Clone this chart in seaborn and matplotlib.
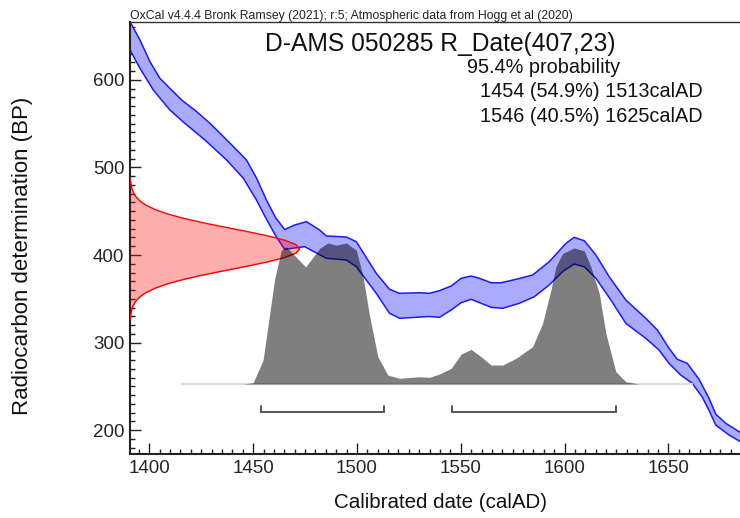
import numpy as np
import pandas as pd
import matplotlib
matplotlib.use("Agg")
import matplotlib.pyplot as plt
import seaborn as sns
from matplotlib.ticker import MultipleLocator

# ---------------- data ----------------
header = "OxCal v4.4.4 Bronk Ramsey (2021); r:5; Atmospheric data from Hogg et al (2020)"
title = "D-AMS 050285 R_Date(407,23)"
summary_lines = ["95.4% probability", "1454 (54.9%) 1513calAD", "1546 (40.5%) 1625calAD"]
x_label = "Calibrated date (calAD)"
y_label = "Radiocarbon determination (BP)"

# calibration curve band (upper / lower edges)
curve_upper_year = [1390.7, 1395.5, 1400.3, 1405.1, 1409.9, 1415.6, 1422.8, 1429.2, 1437.8, 1446.8,
                    1451.6, 1456.4, 1460.9, 1465.2, 1470.0, 1475.7, 1482.0, 1485.3, 1494.9, 1499.7,
                    1509.3, 1515.7, 1520.5, 1530.1, 1534.9, 1539.7, 1545.4, 1550.2, 1555.0, 1559.0,
                    1564.6, 1569.4, 1576.6, 1584.6, 1592.6, 1600.7, 1604.6, 1609.5, 1615.1, 1621.5,
                    1629.5, 1639.1, 1644.7, 1650.3, 1654.3, 1659.1, 1664.7, 1669.5, 1672.8, 1677.6, 1684.5]
curve_upper_bp = [666.6, 645.7, 620.9, 601.9, 590.5, 577.1, 563.8, 550.5, 530.3, 508.6,
                  488.0, 462.9, 442.3, 429.1, 434.3, 438.1, 428.6, 421.7, 420.6, 415.2,
                  379.1, 360.8, 356.2, 356.9, 356.2, 359.2, 364.6, 373.4, 376.0, 373.4,
                  368.3, 368.3, 372.2, 377.1, 392.3, 413.4, 420.2, 416.3, 400.0, 375.2,
                  348.6, 327.7, 314.3, 293.4, 280.8, 276.2, 258.3, 236.6, 218.3, 207.7, 197.5]
curve_lower_year = [1390.7, 1395.5, 1401.9, 1409.9, 1417.1, 1426.8, 1437.2, 1445.2, 1451.6, 1456.1,
                    1461.2, 1465.2, 1474.8, 1485.3, 1494.9, 1499.7, 1509.3, 1515.7, 1520.5, 1534.9,
                    1539.7, 1545.4, 1550.2, 1555.0, 1564.6, 1570.2, 1578.2, 1585.4, 1592.6, 1599.0,
                    1604.6, 1609.5, 1615.1, 1622.3, 1629.5, 1639.1, 1645.5, 1650.3, 1655.9, 1661.5,
                    1666.3, 1669.5, 1672.8, 1679.2, 1684.5]
curve_lower_bp = [634.3, 613.4, 588.6, 565.7, 550.5, 531.4, 508.6, 488.0, 462.9, 442.3,
                  420.6, 406.5, 409.5, 396.2, 394.3, 386.6, 356.2, 333.4, 327.7, 329.7,
                  328.8, 337.1, 345.5, 349.4, 340.2, 339.1, 344.8, 352.3, 365.7, 380.9,
                  389.7, 386.6, 373.4, 348.6, 321.9, 304.8, 291.4, 276.2, 262.9, 253.4,
                  237.7, 222.9, 205.7, 194.3, 187.0]

# measured radiocarbon date distribution (relative density vs BP)
date_bp = [487, 482, 477, 472, 467, 462, 457, 452, 447, 442, 437, 432, 427, 422, 417, 412, 407,
           402, 397, 392, 387, 382, 377, 372, 367, 362, 357, 352, 347, 342, 337, 332, 327]
date_density = [0.002, 0.005, 0.010, 0.018, 0.033, 0.057, 0.094, 0.147, 0.220, 0.314, 0.427, 0.554,
                0.685, 0.808, 0.910, 0.977, 1.000, 0.977, 0.910, 0.808, 0.685, 0.554, 0.427, 0.314,
                0.220, 0.147, 0.094, 0.057, 0.033, 0.018, 0.010, 0.005, 0.002]

# calibrated (posterior) distribution, relative probability vs calendar year
post_year = [1415.7, 1445.2, 1450.0, 1454.8, 1458.0, 1460.4, 1463.6, 1466.0, 1475.3, 1482.0,
             1486.0, 1490.1, 1494.9, 1499.7, 1502.9, 1506.1, 1510.1, 1514.9, 1520.5, 1525.3,
             1530.1, 1534.9, 1539.7, 1545.4, 1550.2, 1555.0, 1559.8, 1564.6, 1570.2, 1576.6,
             1584.6, 1589.4, 1593.4, 1595.8, 1599.0, 1604.6, 1609.5, 1612.7, 1616.7, 1619.9,
             1624.7, 1629.5, 1635.9, 1661.5]
post_prob = [0.0, 0.0, 0.009, 0.169, 0.498, 0.744, 0.944, 0.967, 0.826, 0.956,
             0.995, 0.979, 0.995, 0.944, 0.761, 0.479, 0.192, 0.063, 0.040, 0.046,
             0.051, 0.047, 0.070, 0.111, 0.211, 0.244, 0.192, 0.134, 0.134, 0.181,
             0.263, 0.427, 0.662, 0.826, 0.920, 0.960, 0.939, 0.826, 0.639, 0.357,
             0.087, 0.016, 0.0, 0.0]

# 95.4% ranges
range_start = [1454, 1546]
range_end = [1513, 1625]

# ---------------- layout / style ----------------
XMIN, XMAX = 1390.7, 1684.5
YMIN, YMAX = 172.6, 666.6
DATE_WIDTH = 81.7        # horizontal extent (years) of the red date curve
POST_BASE = 252.6        # baseline (BP) of the calibrated distribution
POST_HEIGHT = 162.0      # height (BP) of the calibrated distribution peak
BRACKET_Y, BRACKET_TOP = 220.5, 228.0

sns.set_theme(style="ticks")
plt.rcParams['font.family'] = ['Liberation Sans', 'DejaVu Sans']

W, H = 740, 518
fig = plt.figure(figsize=(W / 100, H / 100), dpi=100)
ax = fig.add_axes([130 / W, (H - 454) / H, 610 / W, (454 - 21.7) / H])

# calibration curve band
up = pd.DataFrame({"year": curve_upper_year, "bp": curve_upper_bp})
lo = pd.DataFrame({"year": curve_lower_year, "bp": curve_lower_bp})
poly_x = np.concatenate([up["year"].to_numpy(), lo["year"].to_numpy()[::-1]])
poly_y = np.concatenate([up["bp"].to_numpy(), lo["bp"].to_numpy()[::-1]])
ax.fill(poly_x, poly_y, color=(0.667, 0.667, 1.0), lw=0, zorder=1)
sns.lineplot(data=up, x="year", y="bp", ax=ax, color=(0.1, 0.1, 1.0), lw=1.1,
             estimator=None, sort=False, zorder=2)
sns.lineplot(data=lo, x="year", y="bp", ax=ax, color=(0.1, 0.1, 1.0), lw=1.1,
             estimator=None, sort=False, zorder=2)

# radiocarbon date (red)
dd = pd.DataFrame({"bp": date_bp, "x": XMIN + np.array(date_density) * DATE_WIDTH})
ax.fill_betweenx(dd["bp"], XMIN, dd["x"], color=(1.0, 0.0, 0.0, 0.32), lw=0, zorder=3)
sns.lineplot(data=dd, x="x", y="bp", ax=ax, color="red", lw=1.0, estimator=None,
             sort=False, zorder=3.5)

# calibrated distribution (grey)
pdf = pd.DataFrame({"year": post_year, "top": POST_BASE + np.array(post_prob) * POST_HEIGHT})
sns.lineplot(x=[post_year[0], post_year[-1]], y=[POST_BASE, POST_BASE], ax=ax,
             color="#dcdcdc", lw=1.6, zorder=3.8)
ax.fill_between(pdf["year"], POST_BASE, pdf["top"], color=(0, 0, 0, 0.5), lw=0, zorder=4)

# range brackets
for s, e in zip(range_start, range_end):
    ax.plot([s, s, e, e], [BRACKET_TOP, BRACKET_Y, BRACKET_Y, BRACKET_TOP],
            color="#555555", lw=1.4, zorder=5, solid_joinstyle="miter")

# axes
ax.set_xlim(XMIN, XMAX)
ax.set_ylim(YMIN, YMAX)
ax.xaxis.set_major_locator(MultipleLocator(50))
ax.xaxis.set_minor_locator(MultipleLocator(5))
ax.yaxis.set_major_locator(MultipleLocator(100))
ax.yaxis.set_minor_locator(MultipleLocator(10))
ax.tick_params(which="both", direction="in", color="#222222", width=1.0,
               top=False, right=False)
ax.tick_params(which="major", length=7.7, labelsize=13.5, pad=4)
ax.tick_params(which="minor", length=3.5)
for side in ["left", "bottom"]:
    ax.spines[side].set_linewidth(1.5)
    ax.spines[side].set_color("#222222")
ax.spines["top"].set_linewidth(1.0)
ax.spines["top"].set_color("#333333")
ax.spines["right"].set_visible(False)
ax.set_facecolor("white")

ax.set_xlabel(x_label, fontsize=14.8, color="#111111")
ax.set_ylabel(y_label, fontsize=16, color="#111111")
ax.xaxis.set_label_coords((440 - 130) / 610, (454 - 502) / (454 - 21.7))
ax.xaxis.label.set_va("center")
ax.yaxis.set_label_coords((23 - 130) / 610, (454 - 256) / (454 - 21.7))
ax.yaxis.label.set_va("center")

# texts
fig.text(130 / W, (H - 18.5) / H, header, fontsize=8.8, ha="left", va="baseline", color="#222222")
fig.text(440 / W, (H - 51.5) / H, title, fontsize=17.7, ha="center", va="baseline", color="#111111")
fig.text(466.7 / W, (H - 73) / H, summary_lines[0], fontsize=14.3, ha="left", va="baseline",
         color="#111111")
fig.text(480 / W, (H - 97) / H, summary_lines[1], fontsize=14.3, ha="left", va="baseline",
         color="#111111")
fig.text(480 / W, (H - 122) / H, summary_lines[2], fontsize=14.3, ha="left", va="baseline",
         color="#111111")

fig.savefig("out.png", dpi=100, facecolor="white")
